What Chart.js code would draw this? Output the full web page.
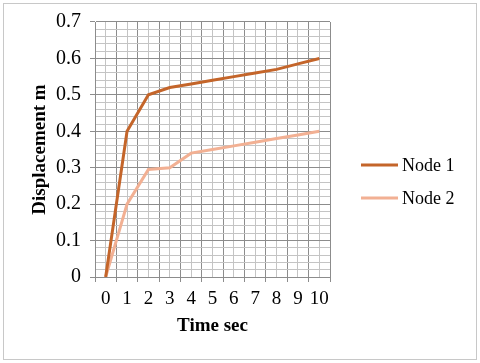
<!DOCTYPE html>
<html lang="en">
<head>
    <meta charset="UTF-8">
    <title>Displacement vs Time</title>
    <script src="https://cdn.jsdelivr.net/npm/chart.js"></script>
    <style>
        html, body {
            margin: 0;
            padding: 0;
            background: #ffffff;
        }
        #chartContainer {
            width: 480px;
            height: 363px;
        }
    </style>
</head>
<body>
    <div id="chartContainer">
        <canvas id="dispChart"></canvas>
    </div>

    <script>
        // data
        const timeLabels = ['0', '1', '2', '3', '4', '5', '6', '7', '8', '9', '10'];
        const node1 = [0, 0.4, 0.5, 0.52, 0.53, 0.54, 0.55, 0.56, 0.57, 0.585, 0.6];
        const node2 = [0, 0.2, 0.295, 0.3, 0.34, 0.35, 0.36, 0.37, 0.38, 0.39, 0.4];
        const seriesNames = ['Node 1', 'Node 2'];

        const serif = "'Liberation Serif', 'Times New Roman', serif";
        const majorGrid = '#8c8c8c';
        const minorGrid = '#c4c4c4';

        function isWhole(v) {
            return Math.abs(v - Math.round(v)) < 1e-6;
        }
        function isTenth(v) {
            return Math.round(v * 100) % 10 === 0;
        }

        // outer frame + legend drawn by hand so the plot area stays where it is
        const framePlugin = {
            id: 'frame',
            beforeDraw(chart) {
                const ctx = chart.ctx;
                ctx.save();
                ctx.strokeStyle = '#c8c8c8';
                ctx.lineWidth = 1;
                ctx.strokeRect(3.5, 3.5, 473, 356);
                ctx.restore();
            },
            afterDraw(chart) {
                const ctx = chart.ctx;
                ctx.save();
                ctx.font = '18px ' + serif;
                ctx.textBaseline = 'middle';
                ctx.fillStyle = '#000000';
                chart.data.datasets.forEach((ds, i) => {
                    const y = 165 + i * 33;
                    ctx.strokeStyle = ds.borderColor;
                    ctx.lineWidth = 3;
                    ctx.beginPath();
                    ctx.moveTo(361, y);
                    ctx.lineTo(398, y);
                    ctx.stroke();
                    ctx.fillText(ds.label, 402, y + 1);
                });
                ctx.restore();
            }
        };

        const ctx = document.getElementById('dispChart').getContext('2d');
        new Chart(ctx, {
            type: 'line',
            data: {
                datasets: [{
                    label: seriesNames[0],
                    data: node1.map((v, i) => ({ x: Number(timeLabels[i]), y: v })),
                    borderColor: '#c4652a',
                    borderWidth: 3,
                    pointRadius: 0,
                    tension: 0
                }, {
                    label: seriesNames[1],
                    data: node2.map((v, i) => ({ x: Number(timeLabels[i]), y: v })),
                    borderColor: '#f2b093',
                    borderWidth: 3,
                    pointRadius: 0,
                    tension: 0
                }]
            },
            options: {
                responsive: true,
                maintainAspectRatio: false,
                animation: false,
                layout: { padding: { left: 0, right: 150, top: 22, bottom: 0 } },
                plugins: {
                    legend: { display: false },
                    tooltip: { enabled: false }
                },
                scales: {
                    x: {
                        type: 'linear',
                        min: -0.5,
                        max: 10.5,
                        afterBuildTicks: (scale) => {
                            const t = [];
                            for (let i = 0; i <= 22; i++) t.push({ value: -0.5 + i * 0.5 });
                            scale.ticks = t;
                        },
                        afterFit: (scale) => { scale.height = 86; },
                        border: { color: majorGrid, width: 1 },
                        grid: {
                            color: (c) => isWhole(c.tick.value) ? minorGrid : majorGrid,
                            tickColor: (c) => isWhole(c.tick.value) ? 'rgba(0,0,0,0)' : majorGrid,
                            tickLength: 5
                        },
                        ticks: {
                            autoSkip: false,
                            maxRotation: 0,
                            padding: 6,
                            color: '#000000',
                            font: { family: serif, size: 19 },
                            callback: (v) => isWhole(v) ? timeLabels[Math.round(v)] : ''
                        },
                        title: {
                            display: true,
                            text: 'Time sec',
                            color: '#000000',
                            font: { family: serif, size: 19, weight: 'bold' },
                            padding: { top: 0, bottom: 26 }
                        }
                    },
                    y: {
                        min: 0,
                        max: 0.7,
                        afterBuildTicks: (scale) => {
                            const t = [];
                            for (let i = 0; i <= 35; i++) t.push({ value: i * 0.02 });
                            scale.ticks = t;
                        },
                        afterFit: (scale) => { scale.width = 95; },
                        border: { color: majorGrid, width: 1 },
                        grid: {
                            color: (c) => isTenth(c.tick.value) ? majorGrid : minorGrid,
                            tickColor: (c) => isTenth(c.tick.value) ? majorGrid : 'rgba(0,0,0,0)',
                            tickLength: 5
                        },
                        ticks: {
                            autoSkip: false,
                            padding: 9,
                            color: '#000000',
                            font: { family: serif, size: 20 },
                            callback: (v) => isTenth(v) ? String(Math.round(v * 10) / 10) : ''
                        },
                        title: {
                            display: true,
                            text: 'Displacement m',
                            color: '#000000',
                            font: { family: serif, size: 19, weight: 'bold' },
                            padding: { top: 29, bottom: 0 }
                        }
                    }
                }
            },
            plugins: [framePlugin]
        });
    </script>
</body>
</html>
